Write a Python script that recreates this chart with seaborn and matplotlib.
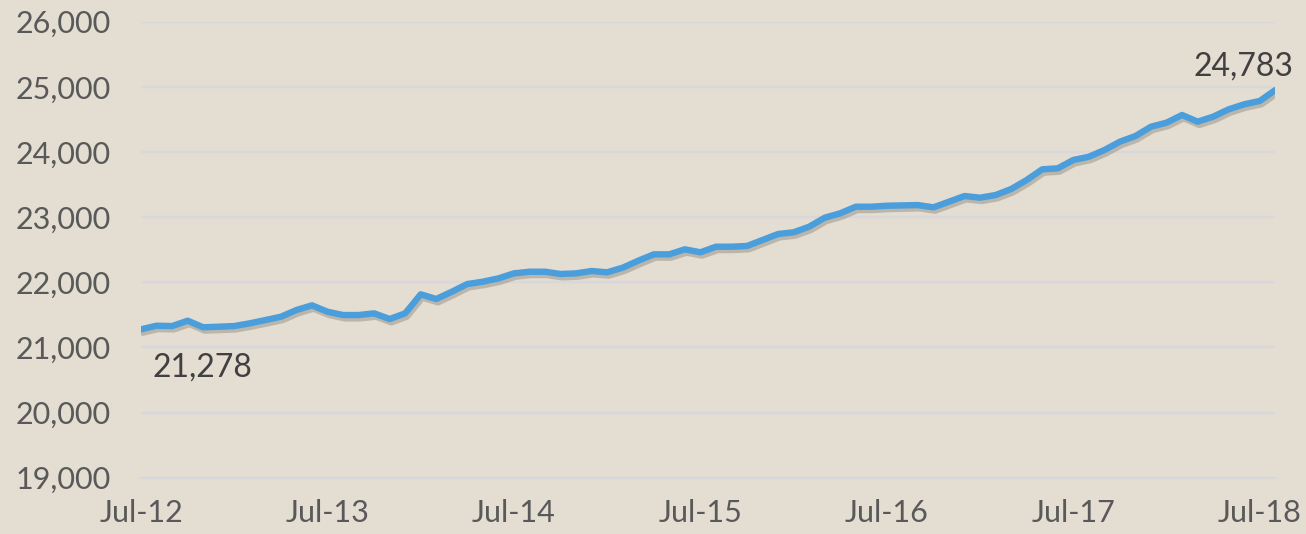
import numpy as np
import pandas as pd
import matplotlib
matplotlib.use("Agg")
import matplotlib.pyplot as plt
import matplotlib.patheffects as pe
import seaborn as sns

# monthly series, Jul-12 .. Aug-18
months = pd.date_range("2012-07-01", "2018-08-01", freq="MS").strftime("%b-%y").tolist()
values = [21278, 21333, 21328, 21410, 21309, 21318, 21328, 21370, 21420, 21471,
          21574, 21646, 21548, 21497, 21497, 21523, 21436, 21523, 21815, 21743,
          21855, 21973, 22009, 22060, 22137, 22162, 22162, 22127, 22137, 22173,
          22153, 22224, 22331, 22429, 22429, 22506, 22460, 22546, 22546, 22557,
          22649, 22741, 22767, 22853, 22991, 23059, 23160, 23160, 23175, 23180,
          23185, 23150, 23237, 23324, 23298, 23339, 23431, 23570, 23734, 23749,
          23877, 23927, 24030, 24158, 24245, 24388, 24450, 24568, 24465, 24542,
          24655, 24732, 24783, 24951]
tick_labels = ["Jul-12", "Jul-13", "Jul-14", "Jul-15", "Jul-16", "Jul-17", "Jul-18"]
y_ticks = [19000, 20000, 21000, 22000, 23000, 24000, 25000, 26000]

df = pd.DataFrame({"month": months, "value": values})
df["idx"] = np.arange(len(df))

bg = "#E3DDD2"
sns.set_style("white")
plt.rcParams["font.family"] = ["Lato", "DejaVu Sans"]

fig = plt.figure(figsize=(13.06, 5.34), dpi=100, facecolor=bg)
ax = fig.add_axes([0.108, 0.1054, 0.8685, 0.854])
ax.set_facecolor(bg)

# soft drop shadow under the line
sns.lineplot(data=df, x="idx", y="value", ax=ax, color="#4A9EDC", linewidth=4.6,
             path_effects=[pe.SimpleLineShadow(offset=(1.2, -2.4), shadow_color="#5a5040", alpha=0.28),
                           pe.Normal()], zorder=3)

ax.set_xlim(0, len(values) - 1)
ax.set_ylim(19000, 26000)
ax.set_yticks(y_ticks)
ax.set_yticklabels([f"{v:,}" for v in y_ticks])
ax.set_xticks([months.index(t) for t in tick_labels])
ax.set_xticklabels(tick_labels)
ax.set_xlabel("")
ax.set_ylabel("")

ax.grid(axis="y", color="#D8D8DC", linewidth=1.6)
ax.set_axisbelow(True)
for s in ["top", "right", "left"]:
    ax.spines[s].set_visible(False)
ax.spines["bottom"].set_color("#D8D8DC")
ax.spines["bottom"].set_linewidth(1.6)

ax.tick_params(axis="y", length=0, pad=22, labelsize=22, labelcolor="#595959")
ax.tick_params(axis="x", length=7, width=1.6, color="#D8D8DC", pad=8,
               labelsize=22, labelcolor="#595959")

# data labels at first and Jul-18 points
ax.annotate(f"{values[0]:,}", (0, values[0]), xytext=(8, -17), textcoords="offset points",
            ha="left", va="top", fontsize=23, color="#404040")
j = months.index("Jul-18")
ax.annotate(f"{values[j]:,}", (j, values[j]), xytext=(-12, 14), textcoords="offset points",
            ha="center", va="bottom", fontsize=23, color="#404040")

fig.savefig("out.png", dpi=100, facecolor=bg)
